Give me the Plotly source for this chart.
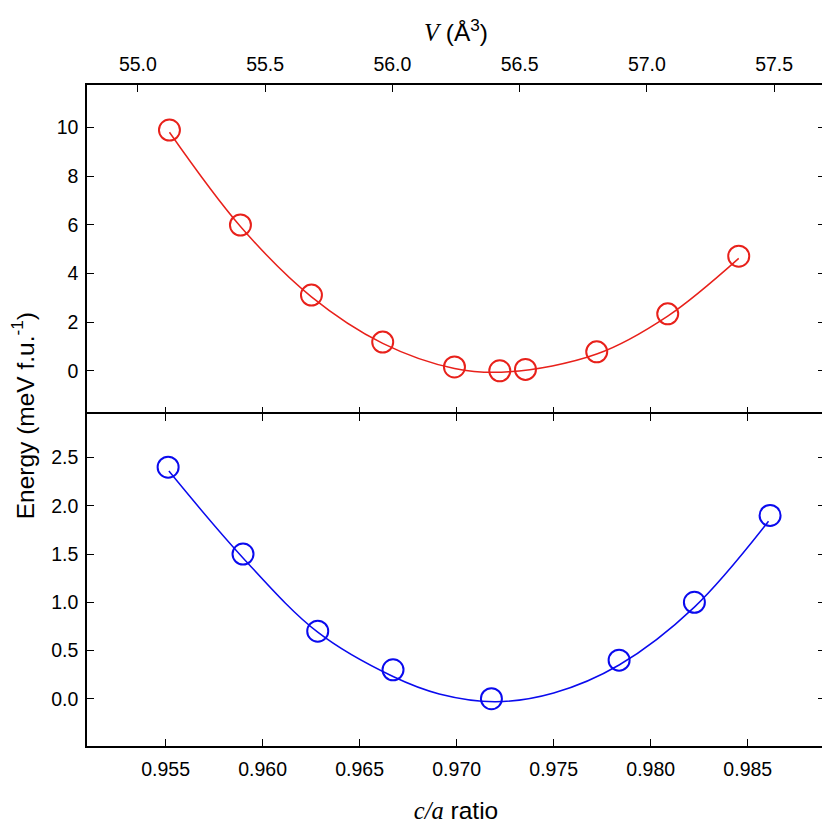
"""Energy vs volume (top) and vs c/a ratio (bottom)."""

import plotly.graph_objects as go

# top panel: energy vs volume
vol_pts = [55.124, 55.403, 55.682, 55.962, 56.244, 56.422, 56.523, 56.803, 57.082, 57.361]
e_vol_pts = [9.89, 5.99, 3.11, 1.18, 0.16, 0.0, 0.06, 0.78, 2.34, 4.71]
vol_fit = [55.124, 55.403, 55.682, 55.962, 56.244, 56.457, 56.803, 57.082, 57.361]
e_vol_fit = [9.80, 5.93, 3.04, 1.13, 0.10, -0.04, 0.69, 2.25, 4.62]

# bottom panel: energy vs c/a
ca_pts = [0.95513, 0.95899, 0.96284, 0.96672, 0.97179, 0.97837, 0.98225, 0.98615]
e_ca_pts = [2.40, 1.50, 0.70, 0.30, 0.00, 0.40, 1.00, 1.90]
ca_fit = [0.95517, 0.95899, 0.96284, 0.96672, 0.96910, 0.97201, 0.97500, 0.97837, 0.98225, 0.98607]
e_ca_fit = [2.36, 1.46, 0.69, 0.23, 0.05, -0.03, 0.06, 0.35, 0.95, 1.84]

vol_ticks = [55.0, 55.5, 56.0, 56.5, 57.0, 57.5]
ca_ticks = [0.955, 0.960, 0.965, 0.970, 0.975, 0.980, 0.985]
e_vol_ticks = [0, 2, 4, 6, 8, 10]
e_ca_ticks = [0.0, 0.5, 1.0, 1.5, 2.0, 2.5]

RED = "#e8211b"
BLUE = "#0a0aee"
SANS = "Liberation Sans"
SERIF = "Liberation Serif"
TICKFONT = dict(family=SANS, size=19.5, color="black")
TITLEFONT = dict(family=SANS, size=24.5, color="black")
SPLIT = 0.502

fig = go.Figure()
fig.add_trace(go.Scatter(x=vol_fit, y=e_vol_fit, mode="lines", line=dict(color=RED, width=1.5, shape="spline"),
                         xaxis="x2", yaxis="y", hoverinfo="skip"))
fig.add_trace(go.Scatter(x=vol_pts, y=e_vol_pts, mode="markers", xaxis="x2", yaxis="y",
                         marker=dict(symbol="circle-open", size=21, color=RED, line=dict(width=2, color=RED))))
# carries the c/a ticks on the lower edge of the top panel
fig.add_trace(go.Scatter(x=[], y=[], xaxis="x3", yaxis="y", hoverinfo="skip"))
fig.add_trace(go.Scatter(x=ca_fit, y=e_ca_fit, mode="lines", line=dict(color=BLUE, width=1.5, shape="spline"),
                         xaxis="x", yaxis="y2", hoverinfo="skip"))
fig.add_trace(go.Scatter(x=ca_pts, y=e_ca_pts, mode="markers", xaxis="x", yaxis="y2",
                         marker=dict(symbol="circle-open", size=21, color=BLUE, line=dict(width=2, color=BLUE))))

axis_style = dict(showline=True, linecolor="black", linewidth=1.5, ticks="inside", ticklen=7,
                  tickwidth=1, tickcolor="black", tickfont=TICKFONT, showgrid=False, zeroline=False)

# the page body adds an 8 px offset, so margins are shifted to compensate
fig.update_layout(
    width=830,
    height=830,
    margin=dict(l=79, r=11, t=77, b=92),
    plot_bgcolor="white",
    paper_bgcolor="white",
    showlegend=False,
    xaxis=dict(axis_style, anchor="y2", domain=[0, 1], range=[0.95095, 0.98898], mirror="ticks",
               tickvals=ca_ticks, ticktext=[f"{v:.3f}" for v in ca_ticks], ticklabelstandoff=5,
               title=dict(text=f"<span style='font-family:{SERIF}'><i>c/a</i></span> ratio",
                          font=TITLEFONT, standoff=23)),
    xaxis2=dict(axis_style, anchor="y", side="top", range=[54.8, 57.7],
                tickvals=vol_ticks, ticktext=[f"{v:.1f}" for v in vol_ticks], ticklabelstandoff=4,
                title=dict(text=f"<span style='font-family:{SERIF}'><i>V</i></span> (Å<sup>3</sup>)",
                           font=TITLEFONT, standoff=5)),
    xaxis3=dict(axis_style, anchor="y", overlaying="x2", side="bottom", range=[0.95095, 0.98898],
                tickvals=ca_ticks, showticklabels=False, showline=False),
    yaxis=dict(axis_style, anchor="x2", domain=[SPLIT, 1], range=[-1.78, 11.74], mirror="ticks",
               tickvals=e_vol_ticks, ticklabelstandoff=3),
    yaxis2=dict(axis_style, anchor="x", domain=[0, SPLIT], range=[-0.49, 2.95], mirror="ticks",
                tickvals=e_ca_ticks, ticktext=[f"{v:.1f}" for v in e_ca_ticks], ticklabelstandoff=3),
    annotations=[dict(text="Energy (meV f.u.<sup>-1</sup>)", textangle=-90, xref="paper", yref="paper",
                      x=-0.087, y=0.5, xanchor="center", yanchor="middle", showarrow=False,
                      font=TITLEFONT)],
)

fig.write_html("out.html")
